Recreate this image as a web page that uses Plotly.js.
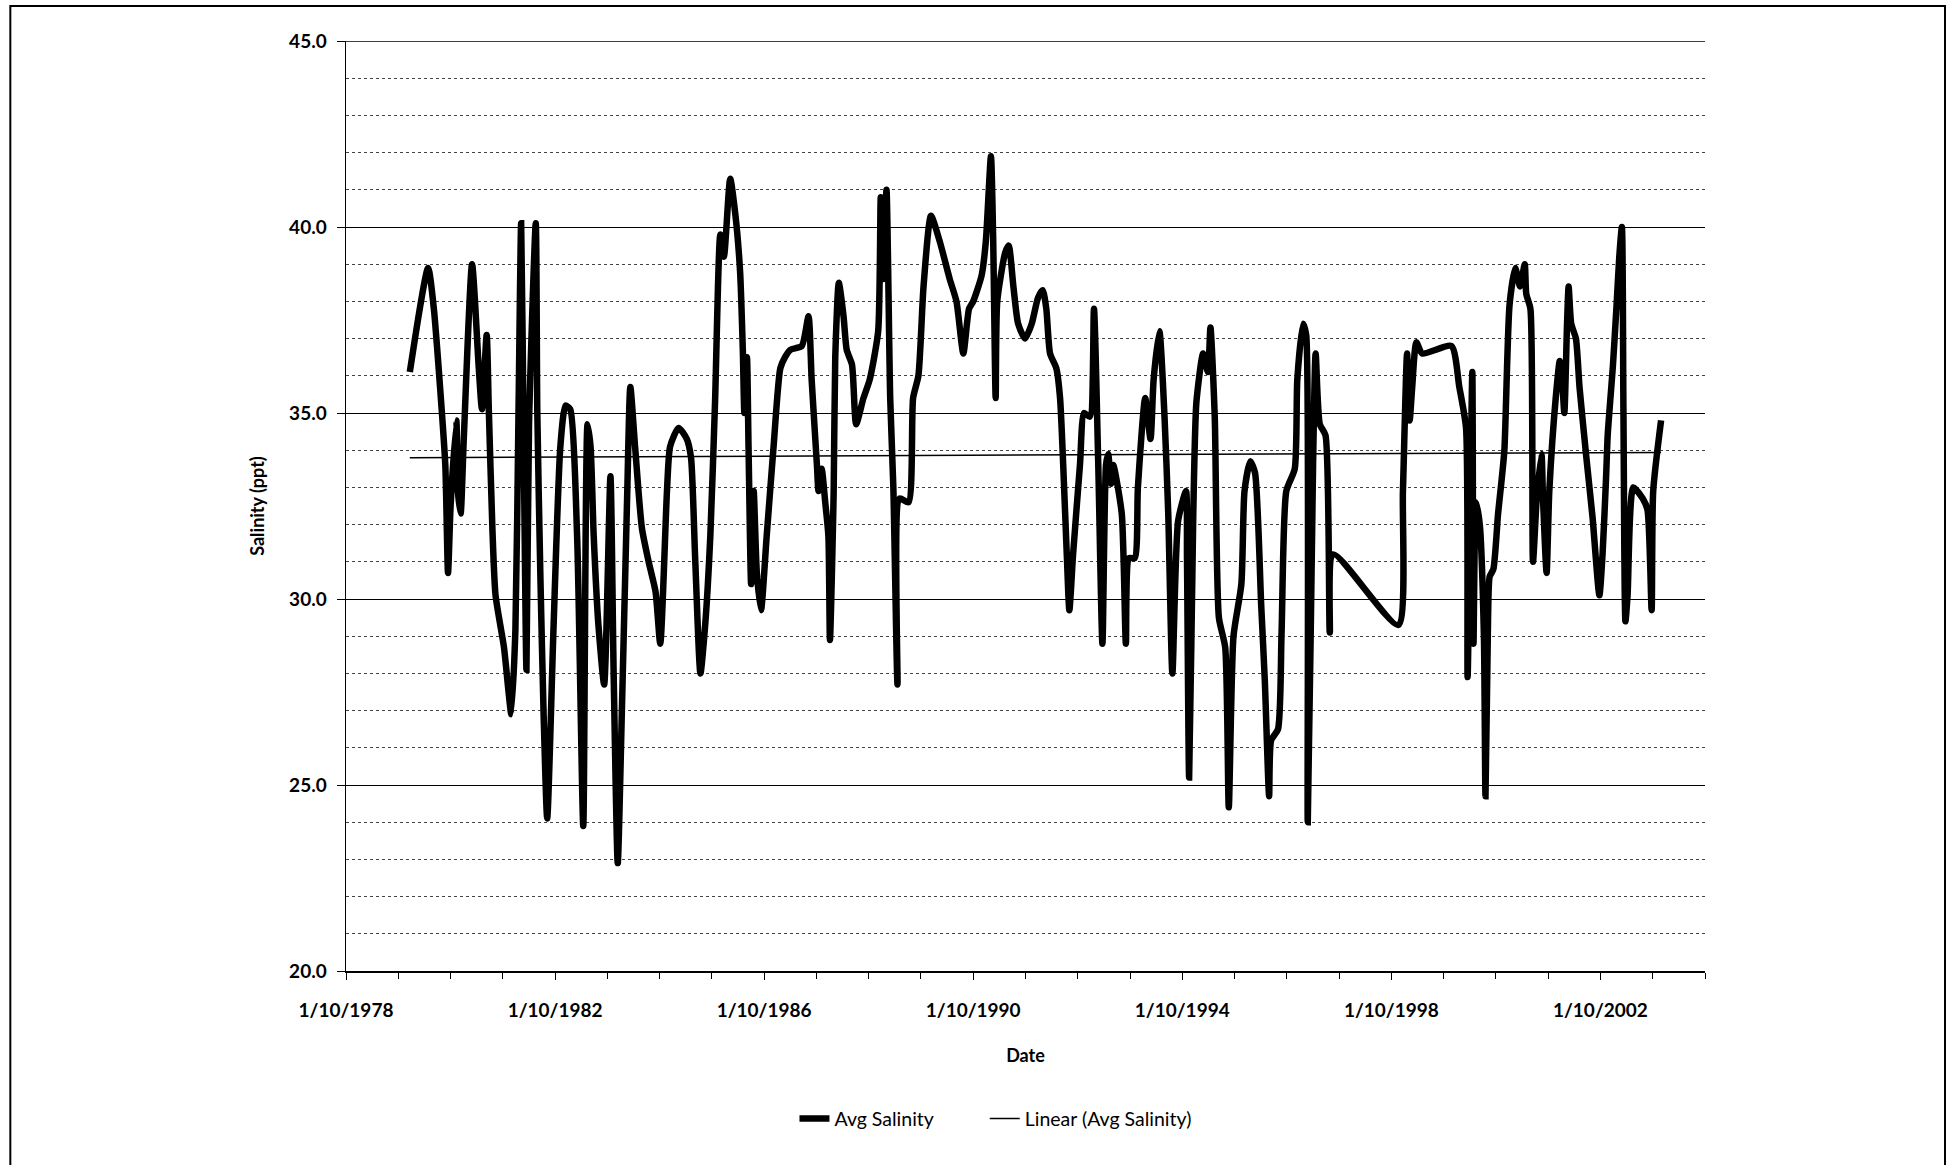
<!DOCTYPE html>
<html>
<head>
<meta charset="utf-8">
<script src="https://cdn.plot.ly/plotly-3.0.1.min.js"></script>
<style>
  html, body { margin: 0; padding: 0; background: #ffffff; }
  #chart { width: 1949px; height: 1165px; }
</style>
</head>
<body>
<div id="chart"></div>
<script>
// Sampling dates as decimal years
const years = [
  1979.97,1980.32,1980.43,1980.56,1980.65,1980.70,1980.75,1980.86,1980.89,1980.94,
  1981.00,1981.16,1981.29,1981.35,1981.44,1981.48,1981.55,1981.61,1981.77,1981.86,
  1981.91,1981.99,1982.05,1982.10,1982.15,1982.20,1982.25,1982.38,1982.41,1982.47,
  1982.53,1982.60,1982.72,1982.85,1982.95,1983.04,1983.17,1983.29,1983.37,1983.43,
  1983.49,1983.58,1983.69,1983.81,1983.87,1983.95,1984.03,1984.13,1984.19,
  1984.28,1984.41,1984.54,1984.67,1984.76,1984.89,1984.95,1985.11,1985.27,1985.35,
  1985.43,1985.53,1985.62,1985.72,1985.81,1985.91,1985.98,1986.10,1986.20,1986.29,
  1986.34,1986.37,1986.42,1986.45,1986.50,1986.55,1986.61,1986.69,1986.80,1986.93,
  1987.06,1987.15,1987.25,1987.47,1987.60,1987.66,1987.76,1987.79,1987.85,1987.92,
  1987.98,1988.01,1988.08,1988.11,1988.18,1988.27,1988.33,1988.43,1988.51,1988.65,
  1988.77,1988.93,1988.98,1989.03,1989.09,1989.16,1989.22,1989.30,1989.34,1989.51,
  1989.60,1989.70,1989.80,1989.94,1990.11,1990.30,1990.43,1990.56,1990.67,1990.75,
  1990.91,1990.99,1991.09,1991.13,1991.18,1991.21,1991.36,1991.43,1991.52,1991.61,
  1991.74,1991.87,1991.99,1992.08,1992.15,1992.22,1992.34,1992.41,1992.47,1992.54,
  1992.59,1992.66,1992.79,1992.87,1992.98,1993.06,1993.14,1993.22,1993.29,1993.33,
  1993.39,1993.43,1993.59,1993.67,1993.73,1993.84,1993.90,1994.04,1994.14,1994.20,
  1994.31,1994.41,1994.48,1994.56,1994.67,1994.82,1994.84,1994.88,1994.96,1995.02,
  1995.15,1995.24,1995.29,1995.37,1995.45,1995.57,1995.64,1995.73,1995.88,1995.94,
  1996.05,1996.14,1996.26,1996.33,1996.41,1996.45,1996.58,1996.65,1996.74,1996.90,
  1996.95,1997.06,1997.12,1997.15,1997.25,1997.30,1997.38,1997.49,1997.57,1997.64,
  1998.88,1998.97,1999.05,1999.10,1999.15,1999.23,1999.34,1999.90,2000.05,2000.18,
  2000.21,2000.30,2000.32,2000.37,2000.44,2000.52,2000.55,2000.60,2000.63,2000.70,
  2000.79,2000.85,2000.91,2001.01,2001.12,2001.21,2001.30,2001.33,2001.41,2001.46,
  2001.53,2001.62,2001.65,2001.72,2001.77,2001.90,2001.97,2002.02,2002.06,2002.11,
  2002.14,2002.19,2002.28,2002.35,2002.48,2002.60,2002.73,2002.79,2002.86,2002.89,
  2002.99,2003.06,2003.11,2003.16,2003.19,2003.23,2003.27,2003.38,2003.56,2003.65,
  2003.73,2003.76,2003.91
];

// Average salinity (ppt)
const avgSalinity = [
  36.1,38.9,37.8,35.5,33.6,30.7,32.5,34.8,32.9,32.3,
  34.3,39.0,36.2,35.1,37.1,35.1,31.9,30.1,28.7,27.5,
  26.9,29.2,35.2,40.1,34.1,28.1,34.7,40.1,35.0,30.5,
  26.9,24.1,29.2,34.1,35.2,35.1,31.7,23.9,34.7,34.1,
  31.7,29.3,27.7,33.3,28.1,22.9,27.0,32.8,35.7,
  34.1,31.9,31.0,30.2,28.8,32.9,34.1,34.6,34.3,33.8,
  31.1,28.0,29.3,31.7,35.3,39.8,39.2,41.3,40.3,38.8,
  36.7,35.0,36.5,34.1,30.4,32.9,30.7,29.7,31.7,34.1,
  36.2,36.5,36.7,36.8,37.6,35.9,33.6,32.9,33.5,32.6,
  31.7,28.9,32.9,36.5,38.5,37.6,36.7,36.3,34.7,35.4,
  35.9,37.2,40.8,38.6,41.0,35.4,33.0,27.7,32.7,32.6,
  35.4,36.0,38.4,40.3,39.6,38.6,38.0,36.6,37.8,38.0,
  38.7,39.6,41.9,39.8,35.4,38.0,39.3,39.5,38.4,37.4,
  37.0,37.4,38.1,38.3,37.8,36.6,36.2,35.4,33.6,31.2,
  29.7,31.2,33.6,35.0,34.9,37.8,33.6,28.8,33.6,33.9,
  33.1,33.6,32.3,28.8,31.1,31.1,33.0,35.4,34.3,35.9,
  37.2,34.9,32.3,28.0,32.1,32.9,31.1,25.2,32.3,35.3,
  36.6,36.1,37.3,34.9,29.5,28.7,24.4,29.0,30.4,32.9,
  33.7,33.4,29.8,27.8,24.7,26.2,26.5,29.1,32.9,33.5,
  35.9,37.4,37.1,24.0,33.6,36.6,34.7,34.4,29.1,31.2,
  29.3,32.9,36.6,34.8,35.7,36.9,36.6,36.8,35.7,34.6,
  27.9,36.1,28.8,32.6,32.0,29.0,24.7,29.5,30.6,30.8,
  32.3,33.1,34.0,37.9,38.9,38.4,39.0,38.2,37.8,31.0,
  32.7,33.9,32.7,30.7,32.9,35.5,36.4,35.8,35.0,37.4,
  38.4,37.4,37.0,35.7,33.8,32.2,30.1,31.2,33.3,34.4,
  36.3,37.9,39.2,40.0,35.1,29.4,30.1,33.0,32.7,32.4,
  29.7,32.9,34.8
];

// Linear trend line end values
const trendValues = [33.80, 33.94];

// Axis tick labels
const xTickDates = ['1978-10-01','1982-10-01','1986-10-01','1990-10-01','1994-10-01','1998-10-01','2002-10-01'];
const xTickLabels = ['1/10/1978','1/10/1982','1/10/1986','1/10/1990','1/10/1994','1/10/1998','1/10/2002'];
const xRange = ['1978-10-01','2004-10-01'];
const yRange = [20, 45];

function decYearToDate(y) {
  const yr = Math.floor(y);
  const start = Date.UTC(yr, 0, 1);
  const end = Date.UTC(yr + 1, 0, 1);
  const d = new Date(start + (y - yr) * (end - start));
  return d.toISOString().slice(0, 10);
}

const dates = years.map(decYearToDate);
const trendDates = [dates[0], dates[dates.length - 1]];

const font = 'Lato, "Open Sans", "Liberation Sans", sans-serif';
const legendFont = { family: font, size: 19.5, color: '#000000' };

const traces = [
  {
    x: dates, y: avgSalinity, type: 'scatter', mode: 'lines',
    name: 'Avg Salinity', legend: 'legend',
    line: { color: '#000000', width: 6.5, shape: 'spline', smoothing: 0.6 }
  },
  {
    x: trendDates, y: trendValues, type: 'scatter', mode: 'lines',
    name: 'Linear (Avg Salinity)', legend: 'legend2',
    line: { color: '#000000', width: 1.5 }
  }
];

const layout = {
  width: 1949, height: 1165,
  margin: { l: 346, r: 244, t: 41, b: 194, pad: 0 },
  paper_bgcolor: '#ffffff', plot_bgcolor: '#ffffff',
  showlegend: true,
  legend: {
    orientation: 'h', x: 0.33, xanchor: 'left', y: -0.159, yanchor: 'middle',
    font: legendFont, bgcolor: 'rgba(0,0,0,0)'
  },
  legend2: {
    orientation: 'h', x: 0.47, xanchor: 'left', y: -0.159, yanchor: 'middle',
    font: legendFont, bgcolor: 'rgba(0,0,0,0)'
  },
  xaxis: {
    type: 'date', range: xRange,
    tickmode: 'array', tickvals: xTickDates, ticktext: xTickLabels,
    ticks: 'outside', ticklen: 7, tickcolor: '#000000', tickwidth: 1,
    ticklabelstandoff: 15,
    showline: true, linecolor: '#000000', linewidth: 1.5,
    showgrid: false, zeroline: false,
    tickfont: { family: font, size: 19, color: '#000000', weight: 'bold' },
    minor: { dtick: 'M12', tick0: '1978-10-01', ticks: 'outside', ticklen: 6, tickcolor: '#000000', showgrid: false },
    title: { text: 'Date', font: { family: font, size: 18, color: '#000000', weight: 'bold' }, standoff: 29 }
  },
  yaxis: {
    range: yRange, dtick: 5, tick0: 20, tickformat: '.1f',
    ticks: 'outside', ticklen: 8, tickcolor: '#000000',
    ticklabelstandoff: 6,
    showline: true, linecolor: '#000000', linewidth: 1.5,
    showgrid: true, gridcolor: '#000000', gridwidth: 1,
    zeroline: false,
    tickfont: { family: font, size: 19, color: '#000000', weight: 'bold' },
    minor: { dtick: 1, showgrid: true, gridcolor: '#444444', gridwidth: 1, griddash: 'dot', ticks: '' },
    title: { text: 'Salinity (ppt)', font: { family: font, size: 18, color: '#000000', weight: 'bold' }, standoff: 20 }
  },
  shapes: [
    { type: 'rect', xref: 'paper', yref: 'paper',
      x0: -0.247, x1: 1.1766, y0: -0.25, y1: 1.0376,
      line: { color: '#000000', width: 2 }, fillcolor: 'rgba(0,0,0,0)', layer: 'below' },
    { type: 'line', xref: 'paper', yref: 'y',
      x0: 0, x1: 1, y0: yRange[1], y1: yRange[1],
      line: { color: '#000000', width: 1.3 }, layer: 'above' }
  ]
};

Plotly.newPlot('chart', traces, layout, { staticPlot: true, displayModeBar: false });
</script>
</body>
</html>
